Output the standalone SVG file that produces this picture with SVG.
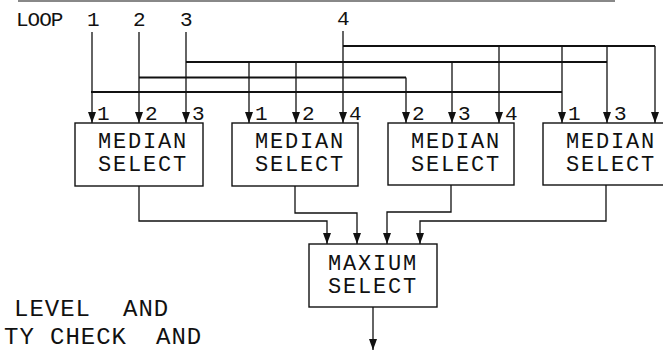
<svg xmlns="http://www.w3.org/2000/svg" width="663" height="352" viewBox="0 0 663 352">
<style>
.ln{fill:none;stroke:#111;stroke-width:1.3}
.bus{fill:none;stroke:#111;stroke-width:1.8}
.box{fill:#fff;stroke:#111;stroke-width:1.4}
.t{font-family:"Liberation Mono","DejaVu Sans Mono",monospace;fill:#111}
.big{font-size:22px;letter-spacing:1.8px;text-anchor:middle}
.lab{font-size:21px}
.side{font-size:24px;letter-spacing:1px}
</style>
<defs>
<marker id="ah" markerUnits="userSpaceOnUse" markerWidth="12" markerHeight="9" refX="11" refY="4" orient="auto">
<path d="M0,0 L11,4 L0,8 Z" fill="#111"/>
</marker>
</defs>
<rect width="663" height="352" fill="#fff"/>
<path d="M18,1 H615" stroke="#888" stroke-width="2"/>

<g id="loop-labels">
<text class="t lab" x="16" y="26" style="letter-spacing:-1px">LOOP</text>
<text class="t lab" x="87" y="26">1</text>
<text class="t lab" x="133" y="26">2</text>
<text class="t lab" x="180" y="26">3</text>
<text class="t lab" x="337" y="25">4</text>
</g>

<g id="connectors">
<path class="bus" d="M91,92 H562" stroke-width="2.2"/>
<path class="bus" d="M139,77.5 H406" stroke-width="1.4"/>
<path class="bus" d="M186,62 H607"/>
<path class="bus" d="M343,46 H655" stroke-width="1.5"/>
<path class="ln" d="M92,32 V123" marker-end="url(#ah)"/>
<path class="ln" d="M139,32 V123" marker-end="url(#ah)"/>
<path class="ln" d="M186,32 V123" marker-end="url(#ah)"/>
<path class="ln" d="M249,62 V123" marker-end="url(#ah)"/>
<path class="ln" d="M296,62 V123" marker-end="url(#ah)"/>
<path class="ln" d="M343,31 V123" marker-end="url(#ah)"/>
<path class="ln" d="M406,77.5 V123" marker-end="url(#ah)"/>
<path class="ln" d="M452,62 V123" marker-end="url(#ah)"/>
<path class="ln" d="M499,46 V123" marker-end="url(#ah)"/>
<path class="ln" d="M562,46 V123" marker-end="url(#ah)"/>
<path class="ln" d="M607,46 V123" marker-end="url(#ah)"/>
<path class="ln" d="M655,46 V123" marker-end="url(#ah)"/>
<path class="ln" d="M139,186 V221 H327 V244" marker-end="url(#ah)"/>
<path class="ln" d="M295,186 V213 H357 V244" marker-end="url(#ah)"/>
<path class="ln" d="M451,185 V212 H387 V244" marker-end="url(#ah)"/>
<path class="ln" d="M606,185 V221 H420 V244" marker-end="url(#ah)"/>
<path class="ln" d="M373,307 V350" marker-end="url(#ah)"/>
</g>

<g id="input-labels">
<text class="t lab" x="97" y="120">1</text>
<text class="t lab" x="145" y="120">2</text>
<text class="t lab" x="192" y="120">3</text>
<text class="t lab" x="255" y="120">1</text>
<text class="t lab" x="302" y="120">2</text>
<text class="t lab" x="349" y="120">4</text>
<text class="t lab" x="412" y="120">2</text>
<text class="t lab" x="458" y="120">3</text>
<text class="t lab" x="505" y="120">4</text>
<text class="t lab" x="568" y="120">1</text>
<text class="t lab" x="614" y="120">3</text>
</g>

<g id="median1">
<rect class="box" x="75" y="123" width="128" height="63"/>
<text class="t big" x="143" y="148">MEDIAN</text>
<text class="t big" x="143" y="171">SELECT</text>
</g>
<g id="median2">
<rect class="box" x="232" y="123" width="126" height="63"/>
<text class="t big" x="300" y="148">MEDIAN</text>
<text class="t big" x="300" y="171">SELECT</text>
</g>
<g id="median3">
<rect class="box" x="388" y="123" width="126" height="62"/>
<text class="t big" x="456" y="148">MEDIAN</text>
<text class="t big" x="456" y="171">SELECT</text>
</g>
<g id="median4">
<rect class="box" x="543" y="123" width="128" height="62"/>
<text class="t big" x="611" y="148">MEDIAN</text>
<text class="t big" x="611" y="171">SELECT</text>
</g>
<g id="maxium">
<rect class="box" x="309" y="244" width="128" height="63"/>
<text class="t big" x="373" y="270">MAXIUM</text>
<text class="t big" x="373" y="293">SELECT</text>
</g>

<g id="side-text">
<text class="t side" x="14" y="316">LEVEL <tspan x="123">AND</tspan></text>
<text class="t side" x="4" y="344">TY <tspan x="50">CHECK</tspan> <tspan x="156">AND</tspan></text>
</g>
</svg>
